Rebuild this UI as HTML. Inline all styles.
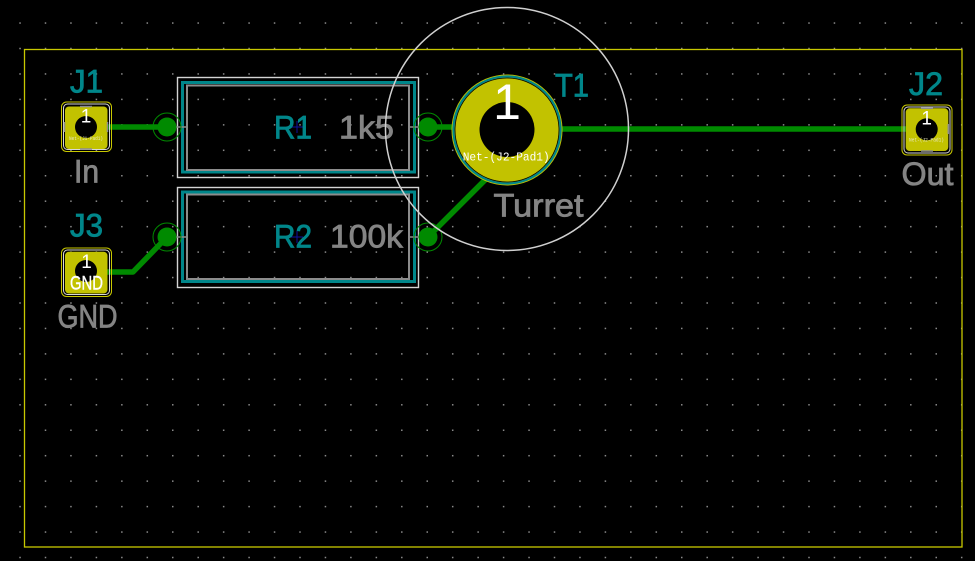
<!DOCTYPE html>
<html><head><meta charset="utf-8"><style>
html,body{margin:0;padding:0;background:#000;}
svg{display:block;}
.s{font-family:"Liberation Sans",sans-serif;}
.m{font-family:"Liberation Mono",monospace;}
</style></head><body>
<svg width="975" height="561" viewBox="0 0 975 561" xmlns="http://www.w3.org/2000/svg">
<defs>
<pattern id="g" x="19.3" y="22.3" width="25.45" height="25.45" patternUnits="userSpaceOnUse">
<rect x="0" y="0" width="1.5" height="1.5" fill="#8a8a8a"/>
</pattern>
</defs>
<rect width="975" height="561" fill="#000"/>
<rect width="975" height="561" fill="url(#g)"/>
<!-- board edge -->
<rect x="24.5" y="49.5" width="937.5" height="497.5" fill="none" stroke="#c8c800" stroke-width="1.3"/>

<!-- traces -->
<g stroke="#008a00" stroke-width="5.5" fill="none" stroke-linecap="round" stroke-linejoin="round">
<line x1="100" y1="127" x2="167" y2="127"/>
<polyline points="100,272 133,272 167,237"/>
<line x1="428" y1="127" x2="470" y2="127"/>
<line x1="428" y1="237" x2="492" y2="173"/>
<line x1="545" y1="129" x2="915" y2="129"/>
</g>

<!-- resistor boxes -->
<g fill="none">
<rect x="177.5" y="77.5" width="241" height="100" stroke="#d4d4d4" stroke-width="1.4"/>
<rect x="182.5" y="82.5" width="232" height="89.5" stroke="#00868a" stroke-width="3"/>
<rect x="187" y="85.5" width="222" height="84.5" stroke="#8c8c8c" stroke-width="2"/>
<rect x="177.5" y="187.5" width="241" height="100" stroke="#d4d4d4" stroke-width="1.4"/>
<rect x="182.5" y="192" width="232" height="89.5" stroke="#00868a" stroke-width="3"/>
<rect x="187" y="194.5" width="222" height="84.5" stroke="#8c8c8c" stroke-width="2"/>
</g>
<g stroke="#8c8c8c" stroke-width="1.5">
<line x1="176" y1="127" x2="186" y2="127"/><line x1="409" y1="127" x2="419" y2="127"/>
<line x1="176" y1="237" x2="186" y2="237"/><line x1="409" y1="237" x2="419" y2="237"/>
</g>

<!-- resistor pads -->
<g>
<circle cx="167" cy="127" r="14" fill="none" stroke="#008a00" stroke-width="1"/>
<circle cx="167" cy="127" r="9.5" fill="#008a00"/>
<circle cx="428" cy="127" r="14" fill="none" stroke="#008a00" stroke-width="1"/>
<circle cx="428" cy="127" r="9.5" fill="#008a00"/>
<circle cx="167" cy="237" r="14" fill="none" stroke="#008a00" stroke-width="1"/>
<circle cx="167" cy="237" r="9.5" fill="#008a00"/>
<circle cx="428" cy="237" r="14" fill="none" stroke="#008a00" stroke-width="1"/>
<circle cx="428" cy="237" r="9.5" fill="#008a00"/>
</g>

<!-- crosshairs -->
<g stroke="#1010a0" stroke-width="1">
<line x1="291" y1="127" x2="303" y2="127"/><line x1="297" y1="121" x2="297" y2="133"/>
<line x1="291" y1="237" x2="303" y2="237"/><line x1="297" y1="231" x2="297" y2="243"/>
</g>

<!-- J1 -->
<rect x="61.5" y="102" width="50" height="49.5" rx="5" fill="none" stroke="#c8c800" stroke-width="1"/>
<rect x="63.5" y="104" width="46" height="45.5" rx="4" fill="none" stroke="#d8d8d8" stroke-width="1"/>
<rect x="65" y="106.5" width="42.5" height="42.5" rx="4" fill="#c2c200"/>
<circle cx="86" cy="127" r="11" fill="#000"/>
<g stroke="#8c8c8c" stroke-width="1.5"><line x1="80" y1="106.5" x2="92" y2="106.5"/><line x1="80" y1="149" x2="92" y2="149"/><line x1="64.5" y1="122" x2="64.5" y2="132"/><line x1="107.5" y1="122" x2="107.5" y2="132"/></g>
<text class="s" x="86" y="122.7" font-size="19" fill="#fff" text-anchor="middle">1</text>
<text class="m" x="69" y="140" font-size="5.5" fill="#e8e8c0" textLength="34" lengthAdjust="spacingAndGlyphs">Net-(J1-Pad1)</text>

<!-- J3 -->
<rect x="61.5" y="248" width="50" height="48.5" rx="5" fill="none" stroke="#c8c800" stroke-width="1"/>
<rect x="63.5" y="250" width="46" height="44.5" rx="4" fill="none" stroke="#d8d8d8" stroke-width="1"/>
<rect x="65" y="251.7" width="42.5" height="41.8" rx="4" fill="#c2c200"/>
<circle cx="86" cy="271" r="11" fill="#000"/>
<text class="s" x="86.5" y="268" font-size="19" fill="#fff" text-anchor="middle">1</text>
<text class="s" x="70" y="289.3" font-size="19" fill="#fff" stroke="#fff" stroke-width="0.4" textLength="33" lengthAdjust="spacingAndGlyphs">GND</text>

<!-- J2 -->
<rect x="902" y="105" width="50" height="50" rx="5" fill="none" stroke="#c8c800" stroke-width="1"/>
<rect x="904" y="107" width="46" height="46" rx="4" fill="none" stroke="#d8d8d8" stroke-width="1"/>
<rect x="905.7" y="108.3" width="42.6" height="42.7" rx="4" fill="#c2c200"/>
<circle cx="926.7" cy="129.3" r="11" fill="#000"/>
<g stroke="#8c8c8c" stroke-width="1.5"><line x1="921" y1="108.3" x2="933" y2="108.3"/><line x1="921" y1="151" x2="933" y2="151"/><line x1="948.3" y1="124" x2="948.3" y2="134"/></g>
<text class="s" x="926.7" y="124.5" font-size="19" fill="#fff" text-anchor="middle">1</text>
<text class="m" x="909" y="141.7" font-size="5.5" fill="#e8e8c0" textLength="35" lengthAdjust="spacingAndGlyphs">Net-(J2-Pad1)</text>

<!-- T1 turret pad -->
<circle cx="507" cy="130" r="55.5" fill="#c2c200"/>
<circle cx="507" cy="130" r="53.5" fill="none" stroke="#00868a" stroke-width="2.2"/>
<circle cx="507" cy="130" r="52" fill="none" stroke="#000" stroke-width="0.8"/>
<circle cx="507" cy="130" r="50.8" fill="#c2c200"/>
<circle cx="507" cy="129.5" r="27.5" fill="#000"/>
<text class="s" x="507" y="119" font-size="50" fill="#fff" text-anchor="middle">1</text>
<text class="m" x="462.7" y="160.7" font-size="12" fill="#fff" textLength="87" lengthAdjust="spacingAndGlyphs">Net-(J2-Pad1)</text>

<!-- labels -->
<g class="s" font-size="32" stroke-width="0.8">
<text x="70" y="92.7" fill="#00868a" stroke="#00868a" textLength="33" lengthAdjust="spacingAndGlyphs">J1</text>
<text x="74" y="182.7" fill="#848484" stroke="#848484" textLength="25" lengthAdjust="spacingAndGlyphs">In</text>
<text x="70" y="236.7" fill="#00868a" stroke="#00868a" textLength="33" lengthAdjust="spacingAndGlyphs">J3</text>
<text x="57.5" y="327.3" fill="#848484" stroke="#848484" textLength="60" lengthAdjust="spacingAndGlyphs">GND</text>
<text x="274" y="138.3" fill="#00868a" stroke="#00868a" textLength="38" lengthAdjust="spacingAndGlyphs">R1</text>
<text x="339" y="138.3" fill="#848484" stroke="#848484" textLength="55" lengthAdjust="spacingAndGlyphs">1k5</text>
<text x="274" y="247.7" fill="#00868a" stroke="#00868a" textLength="38" lengthAdjust="spacingAndGlyphs">R2</text>
<text x="330" y="247.7" fill="#848484" stroke="#848484" textLength="73" lengthAdjust="spacingAndGlyphs">100k</text>
<text x="555" y="96.7" fill="#00868a" stroke="#00868a" textLength="34" lengthAdjust="spacingAndGlyphs">T1</text>
<text x="493.5" y="216.7" fill="#848484" stroke="#848484" textLength="90" lengthAdjust="spacingAndGlyphs">Turret</text>
<text x="909" y="95" fill="#00868a" stroke="#00868a" textLength="34" lengthAdjust="spacingAndGlyphs">J2</text>
<text x="901.5" y="185" fill="#848484" stroke="#848484" textLength="52" lengthAdjust="spacingAndGlyphs">Out</text>
</g>

<!-- T1 courtyard circle -->
<circle cx="507" cy="129" r="121.5" fill="none" stroke="#d0d0d0" stroke-width="1.5"/>
</svg>
</body></html>
